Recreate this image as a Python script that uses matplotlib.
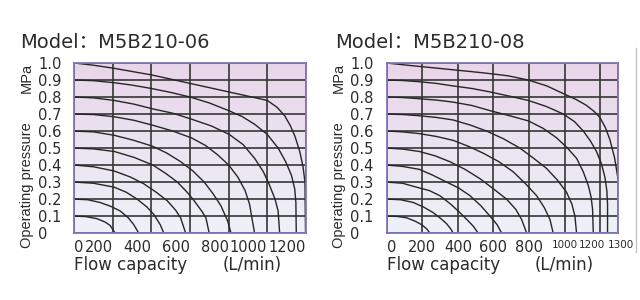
import numpy as np
import matplotlib.pyplot as plt
from matplotlib.colors import LinearSegmentedColormap
from matplotlib.lines import Line2D
from matplotlib.transforms import ScaledTranslation

# curve data (flow L/min, pressure MPa)
m06_flow = [
    [0, 60, 117, 160, 186, 212],
    [0, 70, 134, 190, 238, 280, 308, 334],
    [0, 100, 207, 270, 325, 375, 412, 445, 464],
    [0, 100, 207, 290, 360, 425, 482, 525, 551, 577],
    [0, 100, 207, 310, 407, 475, 534, 585, 621, 660, 682, 699],
    [0, 100, 207, 310, 407, 480, 551, 615, 673, 720, 760, 795, 812],
    [0, 100, 207, 310, 407, 510, 607, 680, 743, 800, 847, 885, 908, 934],
    [0, 100, 207, 310, 407, 510, 607, 710, 803, 875, 934, 980, 1012, 1040, 1056, 1064],
    [0, 100, 200, 300, 400, 500, 600, 700, 800, 870, 934, 1000, 1056, 1095, 1125, 1142, 1148, 1150],
    [0, 100, 200, 300, 400, 500, 600, 700, 800, 900, 1000, 1050, 1090, 1120, 1143, 1168, 1185, 1195, 1198],
]
m06_pres = [
    [0.1, 0.097, 0.085, 0.065, 0.045, 0],
    [0.2, 0.196, 0.18, 0.157, 0.13, 0.09, 0.05, 0],
    [0.3, 0.293, 0.27, 0.24, 0.2, 0.155, 0.11, 0.05, 0],
    [0.4, 0.39, 0.365, 0.33, 0.29, 0.24, 0.19, 0.135, 0.09, 0],
    [0.5, 0.495, 0.48, 0.445, 0.4, 0.35, 0.3, 0.24, 0.19, 0.13, 0.09, 0],
    [0.6, 0.595, 0.575, 0.545, 0.51, 0.47, 0.42, 0.365, 0.3, 0.23, 0.16, 0.07, 0],
    [0.7, 0.697, 0.684, 0.663, 0.634, 0.6, 0.56, 0.515, 0.46, 0.4, 0.33, 0.25, 0.17, 0],
    [0.8, 0.795, 0.78, 0.758, 0.73, 0.705, 0.67, 0.63, 0.58, 0.52, 0.44, 0.36, 0.28, 0.2, 0.13, 0],
    [0.9, 0.896, 0.885, 0.87, 0.85, 0.827, 0.8, 0.765, 0.72, 0.685, 0.64, 0.58, 0.5, 0.42, 0.34, 0.26, 0.18, 0],
    [1.0, 0.987, 0.97, 0.95, 0.93, 0.905, 0.88, 0.855, 0.83, 0.805, 0.78, 0.74, 0.69, 0.63, 0.57, 0.48, 0.39, 0.3, 0],
]

m08_flow = [
    [0, 60, 112, 160, 196, 225, 243],
    [0, 80, 150, 210, 262, 305, 337, 360, 374],
    [0, 90, 168, 240, 299, 360, 412, 455, 487, 514],
    [0, 90, 183, 260, 337, 405, 468, 530, 580, 620, 646],
    [0, 90, 183, 270, 355, 440, 524, 600, 673, 725, 758, 786],
    [0, 90, 183, 280, 374, 460, 542, 630, 711, 780, 842, 885, 917, 935],
    [0, 90, 183, 280, 374, 470, 561, 655, 748, 825, 898, 960, 1010, 1040, 1057, 1066],
    [0, 90, 183, 280, 374, 480, 580, 690, 795, 880, 954, 1015, 1066, 1104, 1132, 1148, 1156, 1160],
    [0, 90, 183, 280, 374, 480, 580, 690, 795, 895, 992, 1055, 1104, 1145, 1178, 1205, 1225, 1236, 1240, 1240],
    [0, 90, 183, 280, 374, 470, 561, 680, 795, 900, 992, 1065, 1123, 1165, 1197, 1228, 1253, 1280, 1300],
]
m08_pres = [
    [0.1, 0.098, 0.09, 0.07, 0.05, 0.025, 0],
    [0.2, 0.196, 0.18, 0.152, 0.12, 0.085, 0.055, 0.025, 0],
    [0.3, 0.293, 0.27, 0.25, 0.22, 0.17, 0.12, 0.075, 0.04, 0],
    [0.4, 0.392, 0.375, 0.34, 0.3, 0.265, 0.22, 0.16, 0.1, 0.05, 0],
    [0.5, 0.494, 0.48, 0.455, 0.42, 0.375, 0.32, 0.26, 0.2, 0.14, 0.08, 0],
    [0.6, 0.595, 0.585, 0.568, 0.545, 0.51, 0.47, 0.42, 0.36, 0.29, 0.22, 0.15, 0.08, 0],
    [0.7, 0.697, 0.69, 0.68, 0.665, 0.635, 0.6, 0.555, 0.5, 0.44, 0.38, 0.31, 0.24, 0.17, 0.1, 0],
    [0.8, 0.797, 0.79, 0.782, 0.77, 0.75, 0.72, 0.69, 0.66, 0.615, 0.56, 0.5, 0.44, 0.36, 0.28, 0.21, 0.14, 0],
    [0.9, 0.897, 0.89, 0.88, 0.865, 0.85, 0.83, 0.805, 0.78, 0.745, 0.70, 0.655, 0.6, 0.54, 0.48, 0.41, 0.33, 0.25, 0.17, 0],
    [1.0, 0.99, 0.98, 0.97, 0.96, 0.95, 0.94, 0.925, 0.9, 0.865, 0.82, 0.785, 0.75, 0.715, 0.68, 0.62, 0.55, 0.44, 0.31],
]

y_ticks = [0, 0.1, 0.2, 0.3, 0.4, 0.5, 0.6, 0.7, 0.8, 0.9, 1.0]
y_labels = ['0', '0.1', '0.2', '0.3', '0.4', '0.5', '0.6', '0.7', '0.8', '0.9', '1.0']
m06_xticks = [0, 200, 400, 600, 800, 1000, 1200]
m08_xticks = [0, 200, 400, 600, 800, 1000, 1200, 1300]

TXT = '#2b2b2b'
bg = LinearSegmentedColormap.from_list('bg', ['#edf2f9', '#e9d5e9'])


def panel(ax, flows, press, xmax, xticks, title, title_x):
    ax.imshow(np.linspace(0, 1, 200).reshape(-1, 1), cmap=bg, origin='lower',
              extent=[0, xmax, 0, 1.0], aspect='auto', zorder=0)
    ax.set_xlim(0, xmax)
    ax.set_ylim(0, 1.0)
    ax.set_xticks(xticks)
    ax.set_yticks(y_ticks)
    ax.set_yticklabels(y_labels, family='DejaVu Sans', fontsize=10.5, color=TXT)
    for lab in ax.get_yticklabels():
        lab.set_horizontalalignment('left')
    ax.tick_params(axis='y', length=0, pad=26)
    ax.tick_params(axis='x', length=0, pad=5)
    ax.grid(True, color='#363636', linewidth=1.2)
    for f, p in zip(flows, press):
        ax.plot(f, p, color='#262626', linewidth=1.0, zorder=3)
    for s in ax.spines.values():
        s.set_color('#8474b8')
        s.set_linewidth(1.3)
        s.set_zorder(4)
    ax.text(-0.205, 1.0, 'MPa', transform=ax.transAxes, rotation=90,
            ha='center', va='top', fontsize=10.5, family='Liberation Sans', color=TXT)
    ax.text(-0.205, 0.28, 'Operating pressure', transform=ax.transAxes, rotation=90,
            ha='center', va='center', fontsize=10.5, family='Liberation Sans', color=TXT)
    ax.text(title_x, 1.088, title, transform=ax.transAxes, ha='left', va='baseline',
            fontsize=14, family=['DejaVu Sans', 'Noto Sans CJK SC'], color=TXT)
    ax.text(0.0, -0.215, 'Flow capacity', transform=ax.transAxes, ha='left', va='baseline',
            fontsize=12, family='DejaVu Sans', color=TXT)
    ax.text(0.64, -0.215, '(L/min)', transform=ax.transAxes, ha='left', va='baseline',
            fontsize=12, family='DejaVu Sans', color=TXT)


fig = plt.figure(figsize=(6.4, 3.0), dpi=100)
ax1 = fig.add_axes([0.116, 0.223, 0.362, 0.567])
ax2 = fig.add_axes([0.604, 0.223, 0.362, 0.567])

panel(ax1, m06_flow, m06_pres, 1200, m06_xticks, 'Model\uff1aM5B210-06', -0.234)
panel(ax2, m08_flow, m08_pres, 1300, m08_xticks, 'Model\uff1aM5B210-08', -0.223)

# left chart: labels end at their grid line
ax1.set_xticklabels([str(v) for v in m06_xticks], family='DejaVu Sans', fontsize=10.5, color=TXT)
for i, lab in enumerate(ax1.get_xticklabels()):
    lab.set_horizontalalignment('left' if i == 0 else 'right')

# right chart: centred labels, the last three squeezed smaller
ax2.set_xticklabels([str(v) for v in m08_xticks], family='DejaVu Sans', fontsize=10.5, color=TXT)
shift = {1200: -6, 1300: 2}
for i, lab in enumerate(ax2.get_xticklabels()):
    if i == 0:
        lab.set_horizontalalignment('left')
    if m08_xticks[i] >= 1000:
        lab.set_fontsize(7.5)
    if m08_xticks[i] in shift:
        dx = shift[m08_xticks[i]] / 72
        lab.set_transform(lab.get_transform() + ScaledTranslation(dx, 0, fig.dpi_scale_trans))

# thin separator at the right edge
fig.add_artist(Line2D([0.994, 0.994], [0.16, 0.84], color='#c4c4c4', linewidth=1.0))

plt.savefig('out.png', dpi=100)
